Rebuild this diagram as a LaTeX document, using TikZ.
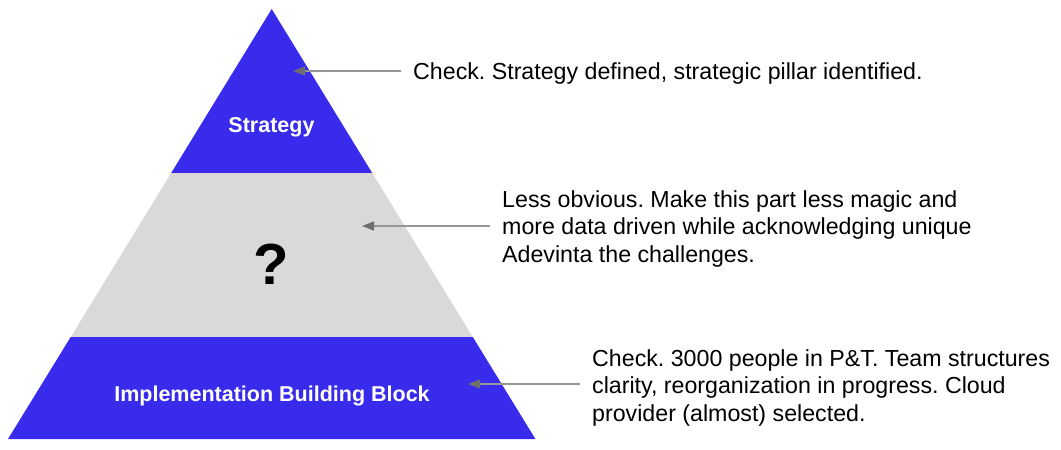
\documentclass[tikz,border=0pt]{standalone}
\usepackage{fontspec}
\setmainfont{Liberation Sans}
\usepackage{tikz}
\usetikzlibrary{arrows.meta, positioning, calc}
\definecolor{pyrblue}{RGB}{57,43,236}
\definecolor{pyrgray}{RGB}{217,217,217}
\definecolor{linegray}{RGB}{150,150,150}
\definecolor{tipgray}{RGB}{110,110,110}
\frenchspacing

\begin{document}
\begin{tikzpicture}[
    x=1pt, y=-1pt,
    band/.style={draw=none},
    level/.style={font=\fontsize{21.5}{26}\selectfont\bfseries, text=white, inner sep=0},
    note/.style={font=\fontsize{23.2}{27.5}\selectfont, align=left, inner xsep=12pt, inner ysep=0pt},
    pointer/.style={draw=linegray, line width=1.6pt, -{Triangle[length=12pt, width=9pt, color=tipgray]}}
]
    \useasboundingbox (0,0) rectangle (1061,450);
    % pyramid bands
    \fill[pyrblue, band] (271.7,9) -- (372.2,173) -- (171.2,173) -- cycle;
    \fill[pyrgray, band] (171.2,173) -- (372.2,173) -- (472.8,337) -- (70.7,337) -- cycle;
    \fill[pyrblue, band] (70.7,337) -- (472.8,337) -- (535.4,439) -- (8,439) -- cycle;

    \node[level, anchor=base] (strategy) at (271.5,132) {Strategy};
    \node[font=\fontsize{58}{60}\selectfont\bfseries, inner sep=0, anchor=base] (unknown) at (271,284) {?};
    \node[level, anchor=base] (impl) at (272,401) {Implementation Building Block};

    % notes on the right
    \node[note, anchor=base west] (note1) at (401,79) {Check. Strategy defined, strategic pillar identified.};
    \node[note, anchor=north west] (note2) at (490,190) {Less obvious. Make this part less magic and\\more data driven while acknowledging unique\\Adevinta the challenges.};
    \node[note, anchor=north west] (note3) at (580,349) {Check. 3000 people in P\&T. Team structures\\clarity, reorganization in progress. Cloud\\provider (almost) selected.};

    \coordinate (tip1) at (293,71);
    \coordinate (tip2) at (362,226);
    \coordinate (tip3) at (468,384);
    \draw[pointer] (note1.west |- tip1) -- (tip1);
    \draw[pointer] (note2.west |- tip2) -- (tip2);
    \draw[pointer] (note3.west |- tip3) -- (tip3);
\end{tikzpicture}
\end{document}
